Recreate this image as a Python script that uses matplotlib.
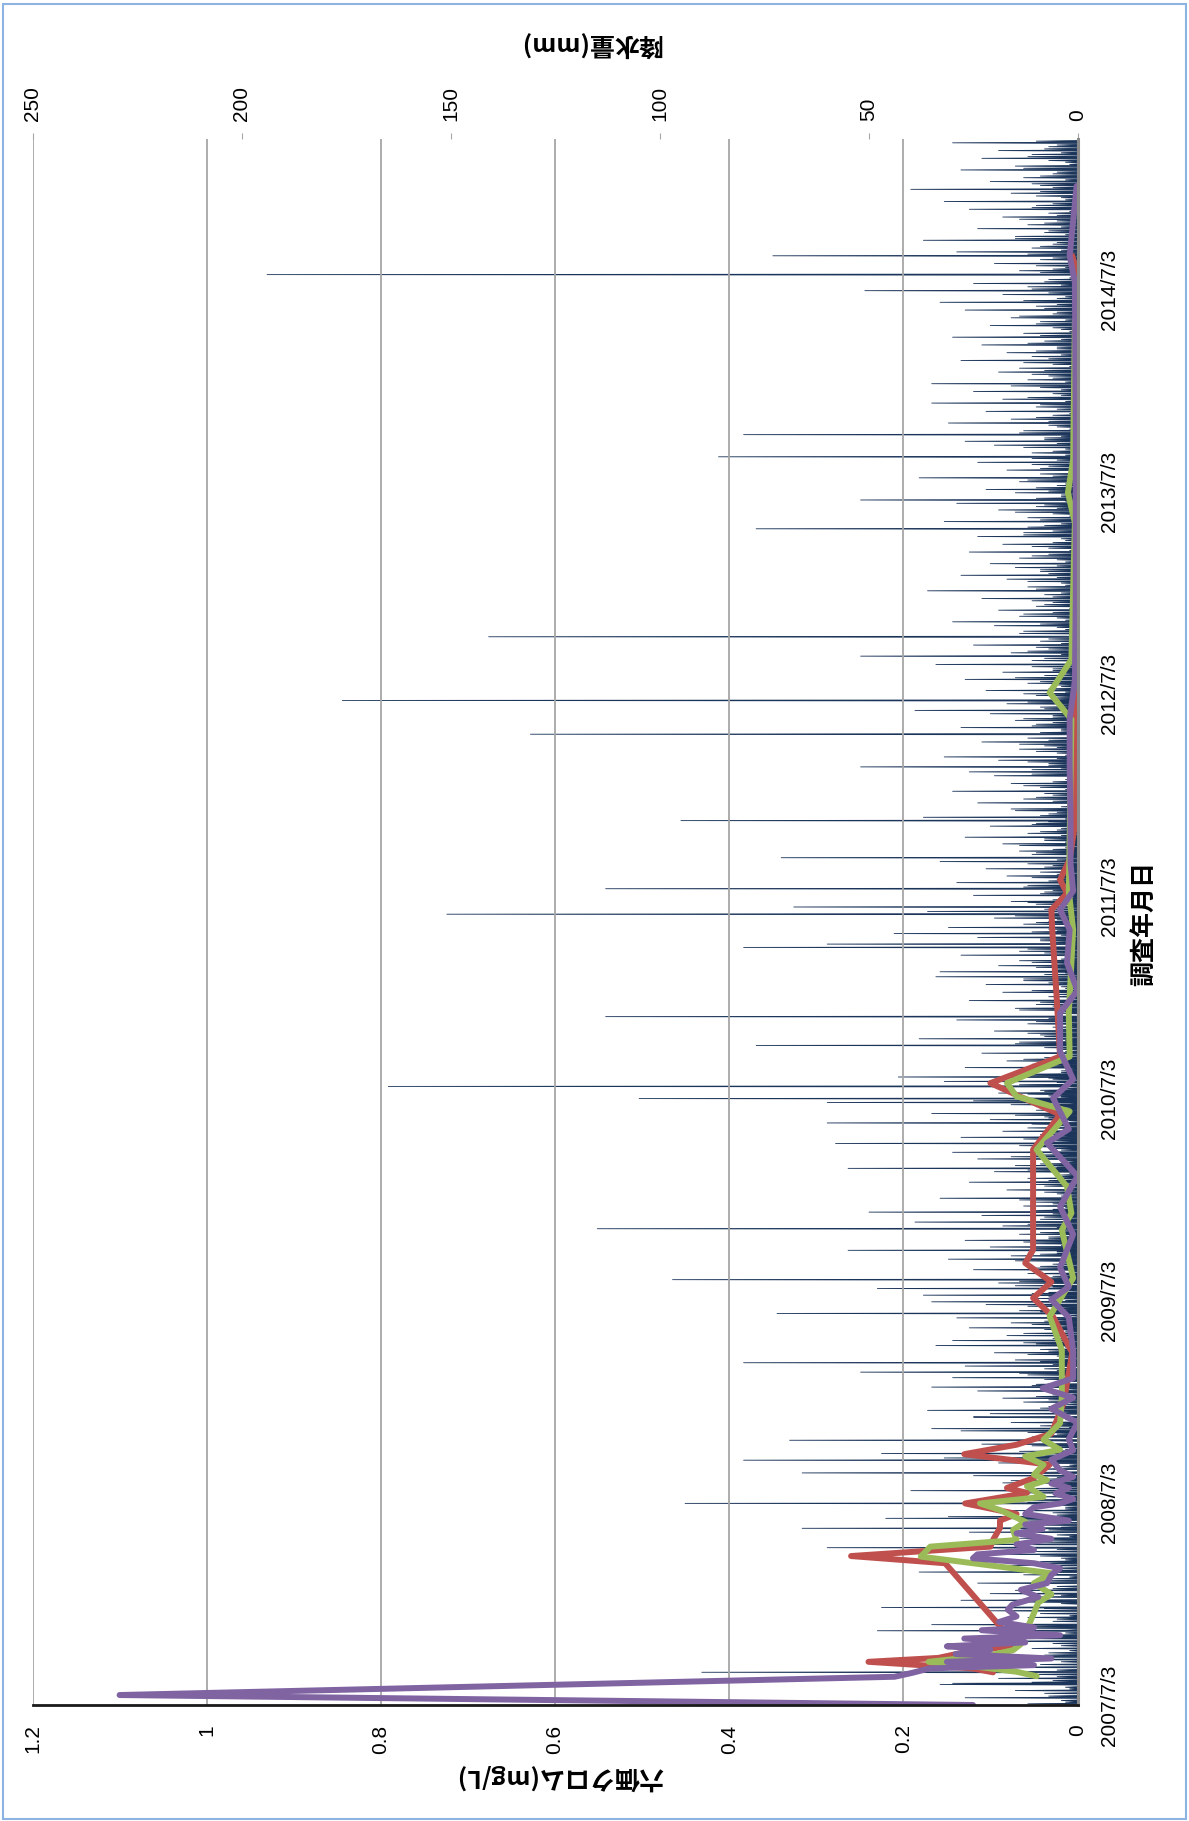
import numpy as np
import matplotlib
matplotlib.use('Agg')
import matplotlib.pyplot as plt
from matplotlib.patches import Rectangle

plt.rcParams['font.family'] = ['Liberation Sans', 'Noto Sans CJK JP']

start = np.datetime64('2007-07-03')
end = np.datetime64('2015-03-31')

# hexavalent chromium, survey day counted from 2007/7/3 (mg/L)
red_days = [59, 66, 78, 85, 95, 108, 256, 269, 286, 298,
            320, 333, 345, 364, 383, 392, 410, 434, 453, 470,
            490, 545, 600, 636, 701, 735, 764, 798, 822, 1003,
            1066, 1123, 1171, 1280, 1400, 1436, 1466, 1490, 1527, 1600,
            1750, 2000, 2300, 2580, 2617]
red_vals = [0.097, 0.12, 0.24, 0.16, 0.13, 0.07, 0.152, 0.26, 0.10, 0.097,
            0.089, 0.089, 0.07, 0.129, 0.058, 0.081, 0.05, 0.032, 0.13, 0.07,
            0.03, 0.016, 0.01, 0.006, 0.028, 0.051, 0.03, 0.06, 0.051, 0.051,
            0.02, 0.10, 0.02, 0.024, 0.029, 0.03, 0.012, 0.02, 0.009, 0.002,
            0.002, 0.001, 0.001, 0.0, 0.006]

green_days = [52, 60, 70, 78, 90, 99, 110, 130, 166, 185,
              200, 220, 238, 268, 286, 298, 316, 331, 352, 364,
              376, 395, 406, 416, 434, 449, 461, 479, 509, 557,
              641, 702, 771, 858, 888, 936, 1003, 1072, 1099, 1123,
              1171, 1250, 1400, 1470, 1563, 1780, 1828, 1888, 2135, 2189,
              2249, 2500]
green_vals = [0.047, 0.07, 0.12, 0.171, 0.10, 0.074, 0.065, 0.06, 0.05, 0.045,
              0.03, 0.05, 0.03, 0.18, 0.169, 0.07, 0.074, 0.06, 0.089, 0.112,
              0.039, 0.058, 0.035, 0.05, 0.039, 0.06, 0.02, 0.039, 0.02, 0.018,
              0.018, 0.032, 0.005, 0.018, 0.007, 0.012, 0.047, 0.009, 0.07, 0.081,
              0.009, 0.01, 0.005, 0.01, 0.009, 0.007, 0.032, 0.007, 0.003, 0.011,
              0.005, 0.003]

purple_days = [0, 18, 51, 58, 66, 72, 78, 84, 92, 100,
               106, 113, 120, 126, 135, 140, 150, 160, 172, 181,
               195, 208, 220, 235, 247, 256, 265, 272, 280, 290,
               300, 310, 318, 326, 333, 345, 357, 364, 372, 382,
               392, 400, 412, 424, 443, 460, 480, 510, 535, 555,
               572, 590, 640, 700, 732, 755, 790, 850, 900, 955,
               1015, 1040, 1096, 1130, 1180, 1250, 1290, 1340, 1400, 1436,
               1470, 1520, 1600, 1700, 1780, 1850, 2000, 2300, 2569, 2617,
               2743]
purple_vals = [0.12, 1.10, 0.21, 0.19, 0.17, 0.05, 0.15, 0.03, 0.14, 0.10,
               0.15, 0.06, 0.13, 0.02, 0.11, 0.05, 0.09, 0.07, 0.08, 0.075,
               0.045, 0.065, 0.035, 0.03, 0.02, 0.05, 0.12, 0.115, 0.05, 0.07,
               0.03, 0.07, 0.04, 0.06, 0.01, 0.06, 0.05, 0.02, 0.005, 0.025,
               0.01, 0.03, 0.005, 0.02, 0.03, 0.005, 0.01, 0.0, 0.03, 0.005,
               0.04, 0.005, 0.005, 0.01, 0.03, 0.01, 0.02, 0.005, 0.02, 0.0,
               0.035, 0.01, 0.028, 0.005, 0.02, 0.02, 0.0, 0.012, 0.009, 0.02,
               0.005, 0.008, 0.008, 0.009, 0.009, 0.003, 0.002, 0.002, 0.003, 0.009,
               0.001]

# daily precipitation (mm): heavy days, ordinary rain days, light rain days
rain_peak_days = [40, 60, 135, 177, 202, 285, 320, 338, 365, 420,
                  443, 455, 479, 500, 521, 575, 602, 619, 659, 708,
                  729, 753, 769, 822, 861, 891, 970, 1015, 1052, 1089,
                  1096, 1118, 1135, 1192, 1244, 1325, 1369, 1375, 1394, 1429,
                  1442, 1475, 1531, 1598, 1695, 1754, 1815, 1895, 1930, 2125,
                  2177, 2255, 2295, 2352, 2555, 2584, 2618, 2738]
rain_peak_mm = [30, 90, 48, 47, 21, 60, 66, 46, 94, 66,
                80, 47, 69, 35, 25, 35, 52, 80, 30, 72,
                35, 48, 97, 55, 115, 50, 55, 58, 60, 60,
                105, 165, 43, 77, 113, 33, 80, 60, 44, 151,
                68, 113, 71, 95, 52, 131, 176, 52, 141, 77,
                52, 86, 80, 35, 51, 194, 73, 40]

rain_days = [3, 9, 14, 22, 27, 33, 38, 45, 49, 56,
             64, 69, 74, 83, 88, 95, 103, 108, 116, 121,
             127, 131, 140, 146, 152, 159, 166, 171, 184, 190,
             196, 208, 215, 221, 229, 236, 241, 248, 253, 260,
             266, 273, 278, 291, 295, 302, 308, 313, 326, 330,
             341, 348, 352, 358, 371, 377, 384, 388, 396, 402,
             409, 415, 427, 431, 438, 447, 451, 459, 466, 472,
             485, 490, 496, 505, 511, 516, 527, 533, 540, 548,
             555, 561, 568, 580, 586, 592, 597, 608, 613, 624,
             631, 637, 643, 650, 655, 663, 668, 676, 682, 688,
             694, 700, 713, 718, 724, 735, 741, 746, 758, 763,
             775, 780, 787, 793, 800, 806, 812, 817, 828, 834,
             840, 846, 851, 857, 866, 873, 878, 885, 896, 902,
             909, 916, 924, 931, 938, 945, 952, 958, 964, 975,
             981, 987, 994, 999, 1006, 1011, 1020, 1026, 1031, 1037,
             1043, 1047, 1058, 1063, 1069, 1075, 1081, 1085, 1092, 1101,
             1106, 1111, 1127, 1131, 1140, 1146, 1152, 1158, 1164, 1170,
             1178, 1185, 1198, 1204, 1211, 1218, 1225, 1231, 1238, 1253,
             1259, 1266, 1273, 1280, 1288, 1295, 1302, 1309, 1316, 1320,
             1330, 1336, 1342, 1348, 1355, 1362, 1381, 1387, 1399, 1405,
             1411, 1416, 1422, 1434, 1447, 1452, 1458, 1463, 1469, 1481,
             1486, 1492, 1498, 1505, 1511, 1517, 1524, 1537, 1543, 1549,
             1556, 1562, 1568, 1575, 1581, 1588, 1593, 1604, 1610, 1616,
             1623, 1630, 1637, 1644, 1651, 1658, 1665, 1672, 1679, 1686,
             1690, 1701, 1707, 1713, 1720, 1727, 1733, 1740, 1747, 1760,
             1766, 1772, 1779, 1785, 1791, 1797, 1803, 1809, 1821, 1827,
             1833, 1840, 1846, 1853, 1860, 1866, 1872, 1880, 1887, 1901,
             1908, 1915, 1922, 1936, 1943, 1950, 1957, 1964, 1971, 1978,
             1985, 1992, 1999, 2006, 2013, 2020, 2027, 2034, 2041, 2048,
             2055, 2062, 2069, 2076, 2083, 2090, 2097, 2104, 2111, 2118,
             2131, 2138, 2145, 2152, 2159, 2165, 2171, 2183, 2190, 2196,
             2203, 2210, 2217, 2224, 2231, 2238, 2245, 2262, 2269, 2276,
             2283, 2289, 2302, 2309, 2316, 2323, 2330, 2337, 2345, 2359,
             2366, 2373, 2380, 2387, 2394, 2401, 2408, 2415, 2422, 2429,
             2436, 2443, 2450, 2457, 2464, 2471, 2478, 2485, 2492, 2499,
             2506, 2513, 2520, 2527, 2534, 2541, 2548, 2562, 2568, 2575,
             2591, 2597, 2604, 2611, 2625, 2632, 2639, 2646, 2653, 2660,
             2667, 2674, 2681, 2688, 2695, 2702, 2709, 2716, 2723, 2731,
             2745, 2752, 2759, 2766, 2773, 2780, 2787, 2794, 2801, 2808,
             2815, 2822]
rain_mm = [12, 4, 27, 8, 15, 3, 33, 6, 19, 10,
           5, 22, 9, 14, 30, 7, 11, 4, 25, 16,
           8, 3, 18, 35, 6, 12, 9, 21, 4, 28,
           10, 15, 5, 24, 7, 13, 38, 6, 17, 9,
           4, 20, 11, 29, 8, 14, 5, 26, 12, 7,
           31, 6, 16, 3, 22, 9, 13, 40, 5, 18,
           7, 25, 10, 4, 19, 32, 8, 14, 6, 23,
           11, 5, 28, 9, 16, 3, 21, 36, 7, 13,
           18, 6, 24, 10, 4, 30, 12, 8, 27, 15,
           5, 20, 9, 34, 13, 6, 17, 3, 26, 11,
           8, 29, 14, 4, 22, 10, 37, 7, 15, 19,
           6, 12, 25, 9, 3, 31, 16, 5, 21, 11,
           27, 7, 14, 4, 18, 39, 9, 23, 6, 13,
           10, 33, 5, 17, 8, 26, 12, 4, 20, 15,
           3, 24, 11, 30, 7, 14, 6, 28, 9, 18,
           12, 5, 21, 8, 35, 10, 4, 16, 25, 7,
           19, 9, 32, 6, 13, 4, 27, 11, 17, 8,
           23, 5, 14, 38, 9, 20, 6, 12, 29, 4,
           15, 10, 26, 7, 18, 3, 22, 13, 34, 8,
           6, 19, 11, 4, 28, 14, 9, 24, 5, 31,
           13, 7, 20, 36, 10, 16, 4, 25, 8, 12,
           29, 5, 17, 9, 22, 6, 33, 11, 14, 3,
           18, 8, 27, 12, 5, 21, 10, 37, 7, 15,
           4, 24, 13, 6, 30, 9, 16, 3, 20, 26,
           11, 7, 19, 32, 5, 14, 8, 23, 12, 4,
           28, 10, 15, 6, 21, 39, 9, 17, 5, 13,
           22, 4, 12, 27, 8, 18, 6, 34, 11, 16,
           7, 25, 9, 14, 3, 20, 30, 5, 13, 19,
           10, 6, 23, 8, 36, 12, 4, 17, 28, 9,
           15, 21, 5, 11, 26, 7, 18, 3, 24, 13,
           8, 32, 12, 6, 19, 10, 29, 4, 15, 22,
           5, 14, 38, 9, 17, 7, 24, 11, 3, 20,
           27, 8, 13, 5, 31, 16, 6, 22, 10, 18,
           4, 25, 9, 35, 12, 7, 19, 14, 6, 28,
           11, 17, 5, 23, 8, 30, 13, 4, 21, 9,
           16, 6, 27, 10, 33, 5, 18, 12, 25, 7,
           14, 3, 20, 9, 29, 11, 6, 37, 15, 8,
           24, 12, 5, 18, 7, 26, 10, 32, 4, 16,
           9, 21, 13, 6, 28, 15, 3, 23, 11, 19,
           7, 30]

drizzle_days = [6, 17, 30, 42, 52, 61, 79, 91, 99, 112,
                124, 136, 143, 156, 162, 175, 187, 199, 211, 225,
                232, 244, 257, 263, 270, 282, 299, 305, 317, 322,
                335, 344, 355, 362, 367, 374, 381, 392, 399, 406,
                412, 421, 434, 441, 449, 456, 462, 469, 478, 487,
                493, 502, 508, 520, 530, 537, 544, 552, 558, 565,
                572, 578, 589, 595, 600, 605, 616, 621, 628, 634,
                640, 647, 653, 660, 666, 672, 679, 685, 691, 697,
                704, 711, 716, 721, 731, 738, 744, 750, 756, 766,
                772, 778, 784, 790, 797, 803, 809, 815, 820, 825,
                831, 837, 843, 849, 854, 863, 869, 876, 882, 888,
                894, 899, 906, 913, 920, 927, 934, 941, 948, 955,
                961, 967, 972, 978, 984, 991, 997, 1003, 1009, 1017,
                1023, 1029, 1034, 1040, 1050, 1056, 1061, 1066, 1072, 1078,
                1083, 1088, 1094, 1099, 1104, 1109, 1114, 1121, 1125, 1133,
                1138, 1143, 1149, 1155, 1161, 1167, 1174, 1181, 1188, 1195,
                1201, 1208, 1214, 1221, 1228, 1235, 1241, 1250, 1256, 1263,
                1270, 1277, 1284, 1291, 1298, 1305, 1312, 1323, 1327, 1333,
                1339, 1345, 1352, 1359, 1366, 1372, 1378, 1384, 1391, 1397,
                1402, 1408, 1414, 1419, 1426, 1431, 1438, 1444, 1450, 1455,
                1461, 1466, 1472, 1478, 1484, 1489, 1495, 1501, 1508, 1514,
                1520, 1527, 1534, 1540, 1546, 1553, 1559, 1565, 1571, 1578,
                1584, 1591, 1596, 1601, 1607, 1613, 1619, 1626, 1633, 1640,
                1647, 1654, 1661, 1668, 1675, 1682, 1693, 1698, 1704, 1710,
                1716, 1723, 1730, 1736, 1743, 1750, 1757, 1763, 1769, 1775,
                1782, 1788, 1794, 1800, 1806, 1812, 1818, 1824, 1830, 1836,
                1843, 1849, 1856, 1863, 1869, 1876, 1883, 1891, 1898, 1904,
                1911, 1918, 1926, 1933, 1940, 1947, 1953, 1960, 1967, 1974,
                1981, 1988, 1995, 2002, 2009, 2016, 2023, 2030, 2037, 2044,
                2051, 2058, 2065, 2072, 2079, 2086, 2093, 2100, 2107, 2114,
                2121, 2128, 2134, 2141, 2148, 2155, 2162, 2168, 2175, 2180,
                2186, 2193, 2199, 2206, 2213, 2220, 2227, 2234, 2241, 2249,
                2252, 2258, 2265, 2272, 2279, 2286, 2292, 2298, 2305, 2312,
                2319, 2326, 2333, 2341, 2349, 2355, 2362, 2369, 2376, 2383,
                2390, 2397, 2404, 2411, 2418, 2425, 2432, 2439, 2446, 2453,
                2460, 2467, 2474, 2481, 2488, 2495, 2502, 2509, 2516, 2523,
                2530, 2537, 2544, 2551, 2558, 2565, 2571, 2578, 2588, 2594,
                2600, 2607, 2614, 2621, 2628, 2635, 2642, 2649, 2656, 2663,
                2670, 2677, 2684, 2691, 2698, 2705, 2712, 2719, 2726, 2734,
                2741, 2748, 2755, 2762, 2769, 2776, 2783, 2790, 2797, 2804,
                2811, 2818, 2825]
drizzle_mm = [3, 7, 2, 11, 5, 14, 4, 8, 2, 6,
              9, 3, 12, 5, 2, 8, 15, 4, 6, 10,
              2, 6, 13, 3, 9, 5, 11, 2, 7, 4,
              14, 5, 3, 8, 12, 2, 6, 10, 4, 16,
              5, 9, 2, 7, 13, 4, 3, 11, 6, 8,
              12, 2, 6, 15, 4, 9, 3, 7, 10, 5,
              3, 11, 8, 2, 14, 5, 6, 9, 4, 12,
              7, 3, 10, 5, 2, 13, 8, 4, 16, 6,
              2, 9, 5, 12, 3, 7, 11, 4, 6, 14,
              8, 4, 2, 10, 6, 15, 3, 9, 5, 11,
              4, 13, 7, 2, 9, 5, 12, 3, 8, 6,
              10, 3, 6, 14, 4, 8, 2, 11, 7, 5,
              2, 12, 5, 9, 3, 16, 6, 4, 10, 7,
              13, 5, 8, 3, 11, 2, 7, 15, 4, 9,
              6, 2, 10, 4, 12, 8, 3, 14, 5, 7,
              11, 4, 2, 9, 6, 13, 5, 3, 8, 15,
              3, 8, 12, 5, 2, 10, 7, 4, 14, 6,
              9, 2, 5, 11, 4, 7, 13, 3, 6, 10,
              5, 14, 3, 8, 12, 2, 6, 9, 4, 11,
              7, 3, 10, 5, 15, 4, 8, 2, 12, 6,
              2, 9, 6, 13, 3, 7, 11, 5, 4, 8,
              12, 5, 2, 10, 6, 14, 3, 8, 4, 9,
              4, 11, 7, 3, 9, 5, 16, 2, 6, 10,
              8, 3, 13, 6, 2, 11, 4, 7, 12, 5,
              3, 10, 5, 14, 7, 2, 9, 4, 11, 6,
              13, 6, 2, 8, 4, 12, 5, 10, 3, 7,
              5, 9, 15, 3, 6, 11, 2, 8, 4, 12,
              10, 4, 7, 2, 13, 5, 9, 3, 14, 6,
              2, 8, 11, 6, 4, 10, 3, 12, 5, 7,
              9, 5, 3, 14, 7, 2, 11, 6, 4, 13,
              6, 12, 4, 9, 2, 15, 5, 8, 3, 10,
              4, 7, 10, 3, 12, 6, 2, 9, 11, 5,
              11, 3, 6, 13, 5, 8, 4, 14, 2, 7,
              7, 10, 2, 5, 9, 3, 12, 6, 4, 16,
              3, 6, 11, 8, 2, 13, 7, 4, 10, 5,
              12, 4, 9, 2, 6, 10, 3, 14, 5, 8,
              5, 13, 3, 7, 11, 4, 8, 2, 9, 6,
              10, 2, 6, 12, 4, 9, 5, 15, 3, 7,
              4, 8, 14, 5, 2, 11, 6, 3, 10, 9,
              6, 11, 3, 9, 5, 13, 2, 7, 12, 4,
              8, 5, 10]

date_ticks = ['2007-07-03', '2008-07-03', '2009-07-03', '2010-07-03',
              '2011-07-03', '2012-07-03', '2013-07-03', '2014-07-03']
date_labels = ['2007/7/3', '2008/7/3', '2009/7/3', '2010/7/3',
               '2011/7/3', '2012/7/3', '2013/7/3', '2014/7/3']
cr_ticks = [0, 0.2, 0.4, 0.6, 0.8, 1.0, 1.2]
cr_labels = ['0', '0.2', '0.4', '0.6', '0.8', '1', '1.2']
rain_ticks = [0, 50, 100, 150, 200, 250]

# daily rainfall series (days without rain stay 0)
n_days = int((end - start) / np.timedelta64(1, 'D')) + 1
day_axis = start + np.arange(n_days)
rain = np.zeros(n_days)
rain[np.array(drizzle_days)] = drizzle_mm
rain[np.array(rain_days)] = rain_mm
rain[np.array(rain_peak_days)] = rain_peak_mm

W, H = 1189, 1821
fig = plt.figure(figsize=(W / 100, H / 100), dpi=100)
L, R, T, B = 32.5, 1077.5, 139, 1705
ax = fig.add_axes([L / W, 1 - B / H, (R - L) / W, (B - T) / H])
ax2 = ax.twiny()
ax.set_zorder(ax2.get_zorder() + 1)
ax.patch.set_visible(False)

# rainfall on the top axis
ax2.fill_betweenx(day_axis, 0, rain, color='#1B3459', lw=0.6, ec='#1B3459')
ax2.set_xlim(250, 0)
ax2.set_xticks(rain_ticks)
ax2.set_xticklabels([str(t) for t in rain_ticks], rotation=90, fontsize=15)
ax2.tick_params(axis='x', direction='out', length=4, color='#A6A6A6', pad=9)
for s in ax2.spines.values():
    s.set_visible(False)

# chromium lines (value on x, survey date on y)
for d, v, c in [(red_days, red_vals, '#C0504D'),
                (green_days, green_vals, '#9BBB59'),
                (purple_days, purple_vals, '#8064A2')]:
    ax.plot(v, start + np.array(d), color=c, lw=4.3,
            solid_joinstyle='round', solid_capstyle='round')

ax.set_xlim(1.2, 0)
ax.set_ylim(start, end)
ax.set_xticks(cr_ticks)
ax.set_xticklabels(cr_labels, rotation=90, fontsize=15)
ax.tick_params(axis='x', length=0, pad=14)
ax.grid(axis='x', color='#A6A6A6', lw=1.3)

ax.yaxis.tick_right()
ax.set_yticks([np.datetime64(t) for t in date_ticks])
ax.set_yticklabels(date_labels, rotation=90, va='center', fontsize=15)
ax.tick_params(axis='y', length=0, pad=16)

ax.spines['top'].set_visible(False)
ax.spines['left'].set_visible(False)
ax.spines['bottom'].set_color('#1A1A1A')
ax.spines['bottom'].set_linewidth(2)
ax.spines['right'].set_color('#8C8C8C')
ax.spines['right'].set_linewidth(2.2)

jp = dict(family=['Noto Sans CJK JP'], fontweight='bold', fontsize=18,
          ha='center', va='center')
fig.text(1144 / W, 1 - 923 / H, '調査年月日', rotation=90, **jp)
fig.text(560 / W, 1 - 1777 / H, '六価クロム(mg/L)', rotation=180, **jp)
fig.text(590 / W, 1 - 44 / H, '降水量(mm)', rotation=180, **jp)

fig.add_artist(Rectangle((3 / W, 2 / H), 1 - 6 / W, 1 - 6 / H,
                         transform=fig.transFigure, fill=False,
                         ec='#8DB3E2', lw=1.5))

fig.savefig('out.png', dpi=100)
